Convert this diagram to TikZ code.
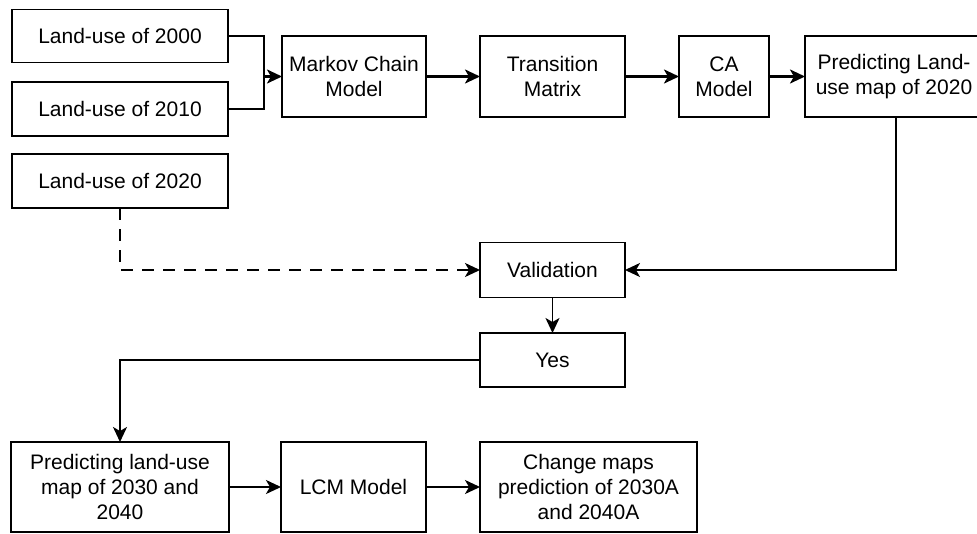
\documentclass[tikz,border=0pt]{standalone}
\usepackage{fontspec}
\setmainfont{Liberation Sans}
\usetikzlibrary{arrows.meta}
\begin{document}
\begin{tikzpicture}[x=1pt,y=-1pt,
  box/.style={draw=black,line width=1.8pt,fill=white,inner sep=0pt,outer sep=0pt,
    align=center,font=\fontsize{21}{25}\selectfont},
  link/.style={line width=1.8pt,draw=black},
  arr/.style={link,-{Stealth[length=15pt,width=14pt,inset=4pt]}},
  thickarr/.style={arr,line width=2.6pt},
  dashlink/.style={arr,dash pattern=on 12pt off 9pt}]
\useasboundingbox[fill=white] (0,0) rectangle (977,533);

% inputs
\node[box,minimum width=216pt,minimum height=53pt] (l2000) at (120,36) {Land-use of 2000};
\node[box,minimum width=216pt,minimum height=54pt] (l2010) at (120,109) {Land-use of 2010};
\node[box,minimum width=216pt,minimum height=54pt] (l2020) at (120,181) {Land-use of 2020};

% top chain
\node[box,minimum width=144pt,minimum height=81pt] (markov) at (354,76.5) {Markov Chain\\Model};
\node[box,minimum width=145pt,minimum height=81pt] (trans) at (552.5,76.5) {Transition\\Matrix};
\node[box,minimum width=90pt,minimum height=81pt] (ca) at (724,76.5) {CA\\Model};
\node[box,minimum width=178pt,minimum height=81pt] (pred20) at (894,76.5) {Predicting Land-\\use map of 2020};

% validation
\node[box,minimum width=145pt,minimum height=55pt] (valid) at (552.5,270) {Validation};
\node[box,minimum width=145pt,minimum height=54pt] (yes) at (552.5,360) {Yes};

% bottom chain
\node[box,minimum width=218pt,minimum height=90pt] (pred30) at (120,487) {Predicting land-use\\map of 2030 and\\2040};
\node[box,minimum width=145pt,minimum height=90pt] (lcm) at (353.5,487) {LCM Model};
\node[box,minimum width=217pt,minimum height=90pt] (change) at (588.5,487) {Change maps\\prediction of 2030A\\and 2040A};

% joining the two inputs
\coordinate (join) at (264,76.5);
\draw[link] (l2000.east) -| (join);
\draw[link] (l2010.east) -| (join);
\draw[thickarr] (join) -- (markov.west);

\draw[thickarr] (markov.east) -- (trans.west);
\draw[thickarr] (trans.east) -- (ca.west);
\draw[thickarr] (ca.east) -- (pred20.west);

\draw[arr] ([xshift=2pt]pred20.south) |- (valid.east);
\draw[dashlink] (l2020.south) |- (valid.west);
\draw[arr] (valid.south) -- (yes.north);
\draw[arr] (yes.west) -| (pred30.north);

\draw[arr] (pred30.east) -- (lcm.west);
\draw[arr] (lcm.east) -- (change.west);
\end{tikzpicture}
\end{document}
